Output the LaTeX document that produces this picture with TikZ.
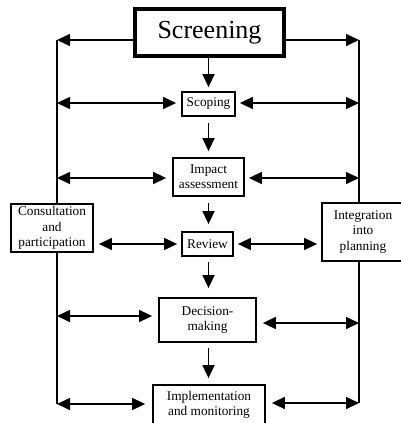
\documentclass[tikz,border=0pt]{standalone}
\usepackage{fontspec}
\setmainfont{Liberation Serif}
\usetikzlibrary{arrows.meta}
\begin{document}
\begin{tikzpicture}[x=1pt,y=-1pt,
  box/.style={draw, line width=1.8pt, inner sep=0pt, align=center,
    font=\fontsize{13.3}{15.3}\selectfont},
  arr/.style={line width=1.6pt, -{Triangle[length=13pt,width=12pt]}},
  dbl/.style={line width=1.6pt, {Triangle[length=13pt,width=12pt]}-{Triangle[length=13pt,width=12pt]}},
  rail/.style={line width=1.8pt}]
\useasboundingbox (0,0) rectangle (400,423);

% process steps
\node[box, line width=3.6pt, minimum width=149pt, minimum height=47pt,
  font=\fontsize{26}{30}\selectfont] (scr) at (209.5,32.5) {Screening};
\node[box, minimum width=53pt, minimum height=24pt] (scop) at (208.5,104) {Scoping};
\node[box, minimum width=71pt, minimum height=38pt] (imp) at (208.5,177) {Impact\\assessment};
\node[box, minimum width=51pt, minimum height=24pt] (rev) at (207.5,244) {Review};
\node[box, minimum width=97pt, minimum height=44pt] (dec) at (207.5,320) {Decision-\\making};
\node[box, minimum width=112pt, minimum height=40pt] (impl) at (209,405) {Implementation\\and monitoring};

% side activities
\node[box, minimum width=82pt, minimum height=48pt] (con) at (52,228) {Consultation\\and\\participation};
\node[box, minimum width=82pt, minimum height=58pt] (int) at (363,232) {Integration\\into\\planning};

% rail end points and row levels
\coordinate (ax) at (208.5,0);
\coordinate (tl) at (57,40);
\coordinate (tr) at (359,40);
\coordinate (l1) at (57,103);
\coordinate (r1) at (359,103);
\coordinate (l2) at (57,178);
\coordinate (r2) at (359,178);
\coordinate (y3) at (0,244);
\coordinate (l4) at (57,316);
\coordinate (r4) at (359,323);
\coordinate (l5) at (57,404);
\coordinate (r5) at (359,403);

% side rails
\draw[rail] (tl) -- (tl |- con.north);
\draw[rail] (tl |- con.south) -- (l5);
\draw[rail] (tr) -- (tr |- int.north);
\draw[rail] (tr |- int.south) -- (r5);

% main sequence
\draw[arr, shorten >=4pt] (ax |- scr.south) -- (ax |- scop.north);
\draw[arr, shorten <=6pt, shorten >=6pt] (ax |- scop.south) -- (ax |- imp.north);
\draw[arr, shorten <=6pt, shorten >=7pt] (ax |- imp.south) -- (ax |- rev.north);
\draw[arr, shorten <=5pt, shorten >=9pt] (ax |- rev.south) -- (ax |- dec.north);
\draw[arr, shorten <=5pt, shorten >=6pt] (ax |- dec.south) -- (ax |- impl.north);

% links to the rails
\draw[arr] (scr.west |- tl) -- (tl);
\draw[arr] (scr.east |- tr) -- (tr);
\draw[dbl, shorten >=5pt] (l1) -- (scop.west |- l1);
\draw[dbl, shorten <=4pt] (scop.east |- r1) -- (r1);
\draw[dbl, shorten >=6pt] (l2) -- (imp.west |- l2);
\draw[dbl, shorten <=4pt] (imp.east |- r2) -- (r2);
\draw[dbl, shorten <=5pt, shorten >=4pt] (con.east |- y3) -- (rev.west |- y3);
\draw[dbl, shorten <=4pt, shorten >=4pt] (rev.east |- y3) -- (int.west |- y3);
\draw[dbl, shorten >=6pt] (l4) -- (dec.west |- l4);
\draw[dbl, shorten <=6pt] (dec.east |- r4) -- (r4);
\draw[dbl, shorten >=7pt] (l5) -- (impl.west |- l5);
\draw[dbl, shorten <=6pt] (impl.east |- r5) -- (r5);
\end{tikzpicture}
\end{document}
